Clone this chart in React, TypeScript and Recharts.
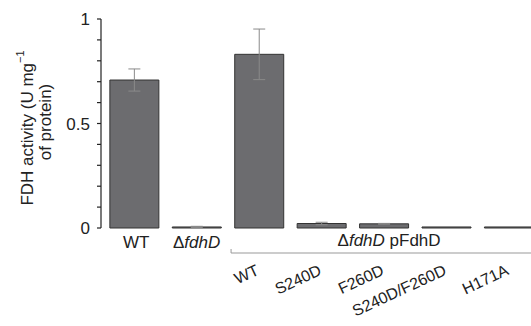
import React from "react";
import { BarChart, Bar, XAxis, YAxis, ErrorBar } from "recharts";

const categories = ["WT", "ΔfdhD", "WT", "S240D", "F260D", "S240D/F260D", "H171A"];
const values = [0.708, 0.005, 0.831, 0.0215, 0.02, 0.005, 0.005];
const errors = [0.053, 0.003, 0.121, 0.006, 0.002, 0, 0];
const yTicks = [0, 0.1, 0.2, 0.3, 0.4, 0.5, 0.6, 0.7, 0.8, 0.9, 1];
const yTickLabels: Record<string, string> = { "0": "0", "0.5": "0.5", "1": "1" };
const groupLabel = "pFdhD";

const data = categories.map((c, i) => ({ key: "c" + i, name: c, value: values[i], err: errors[i] }));

const FONT = "'Liberation Sans', Arial, Helvetica, sans-serif";
const TXT = "#222";
const ANG = -25;

const XTick = (props: any) => {
  const x = Number(props.x);
  const y = Number(props.y);
  const i = props.payload.index;
  const name = categories[i];
  if (i === 0) {
    return (
      <text x={x + 2} y={y + 20} textAnchor="middle" fontSize={17} fill={TXT} fontFamily={FONT}>
        {name}
      </text>
    );
  }
  if (i === 1) {
    return (
      <text x={x} y={y + 20} textAnchor="middle" fontSize={17} fill={TXT} fontFamily={FONT}>
        <tspan>Δ</tspan>
        <tspan fontStyle="italic">fdhD</tspan>
      </text>
    );
  }
  const tx = x + 1;
  const ty = y + 46;
  return (
    <g>
      {i === 2 && (
        <g>
          <path d={`M${x - 28},${y + 21} L${x - 28},${y + 25} L${x + 300},${y + 25}`} stroke="#999" strokeWidth={1} fill="none" />
          <text x={x + 130} y={y + 18} textAnchor="middle" fontSize={17} fill={TXT} fontFamily={FONT}>
            <tspan>Δ</tspan>
            <tspan fontStyle="italic">fdhD</tspan>
            <tspan> {groupLabel}</tspan>
          </text>
        </g>
      )}
      <text
        x={0}
        y={0}
        textAnchor="end"
        fontSize={16}
        fill={TXT}
        fontFamily={FONT}
        transform={`translate(${tx},${ty}) rotate(${ANG})`}
      >
        {name}
      </text>
    </g>
  );
};

const YLabel = () => (
  <g fontFamily={FONT} fill={TXT} fontSize={17}>
    <text x={27} y={128} textAnchor="middle" dominantBaseline="central" transform="rotate(-90, 27, 128)">
      <tspan>FDH activity (U mg</tspan>
      <tspan fontSize={11} dy={-7}>−1</tspan>
    </text>
    <text x={45} y={122} textAnchor="middle" dominantBaseline="central" transform="rotate(-90, 45, 122)">
      of protein)
    </text>
  </g>
);

export default function App() {
  return (
    <div style={{ position: "fixed", left: 0, top: 0, width: 531, height: 326, overflow: "hidden", background: "#fff" }}>
      <BarChart
        width={545}
        height={326}
        data={data}
        margin={{ top: 19, right: 5, left: 0, bottom: 0 }}
        barCategoryGap="11%"
      >
        <XAxis
          dataKey="key"
          height={98}
          axisLine={false}
          tickLine={false}
          tickSize={0}
          tickMargin={0}
          interval={0}
          padding={{ left: 2, right: 0 }}
          tick={<XTick />}
        />
        <YAxis
          width={101}
          domain={[0, 1]}
          ticks={yTicks}
          interval={0}
          tickSize={4}
          tickMargin={7}
          axisLine={{ stroke: TXT, strokeWidth: 1.2 }}
          tickLine={{ stroke: TXT, strokeWidth: 1.2 }}
          tick={{ fontSize: 17, fill: TXT, fontFamily: FONT }}
          tickFormatter={(v: number) => yTickLabels[String(v)] ?? ""}
          label={<YLabel />}
        />
        <Bar dataKey="value" fill="#6c6c6f" stroke="#333" strokeWidth={1} isAnimationActive={false}>
          <ErrorBar dataKey="err" width={6} stroke="#8a8a8a" strokeWidth={1} direction="y" />
        </Bar>
      </BarChart>
    </div>
  );
}
